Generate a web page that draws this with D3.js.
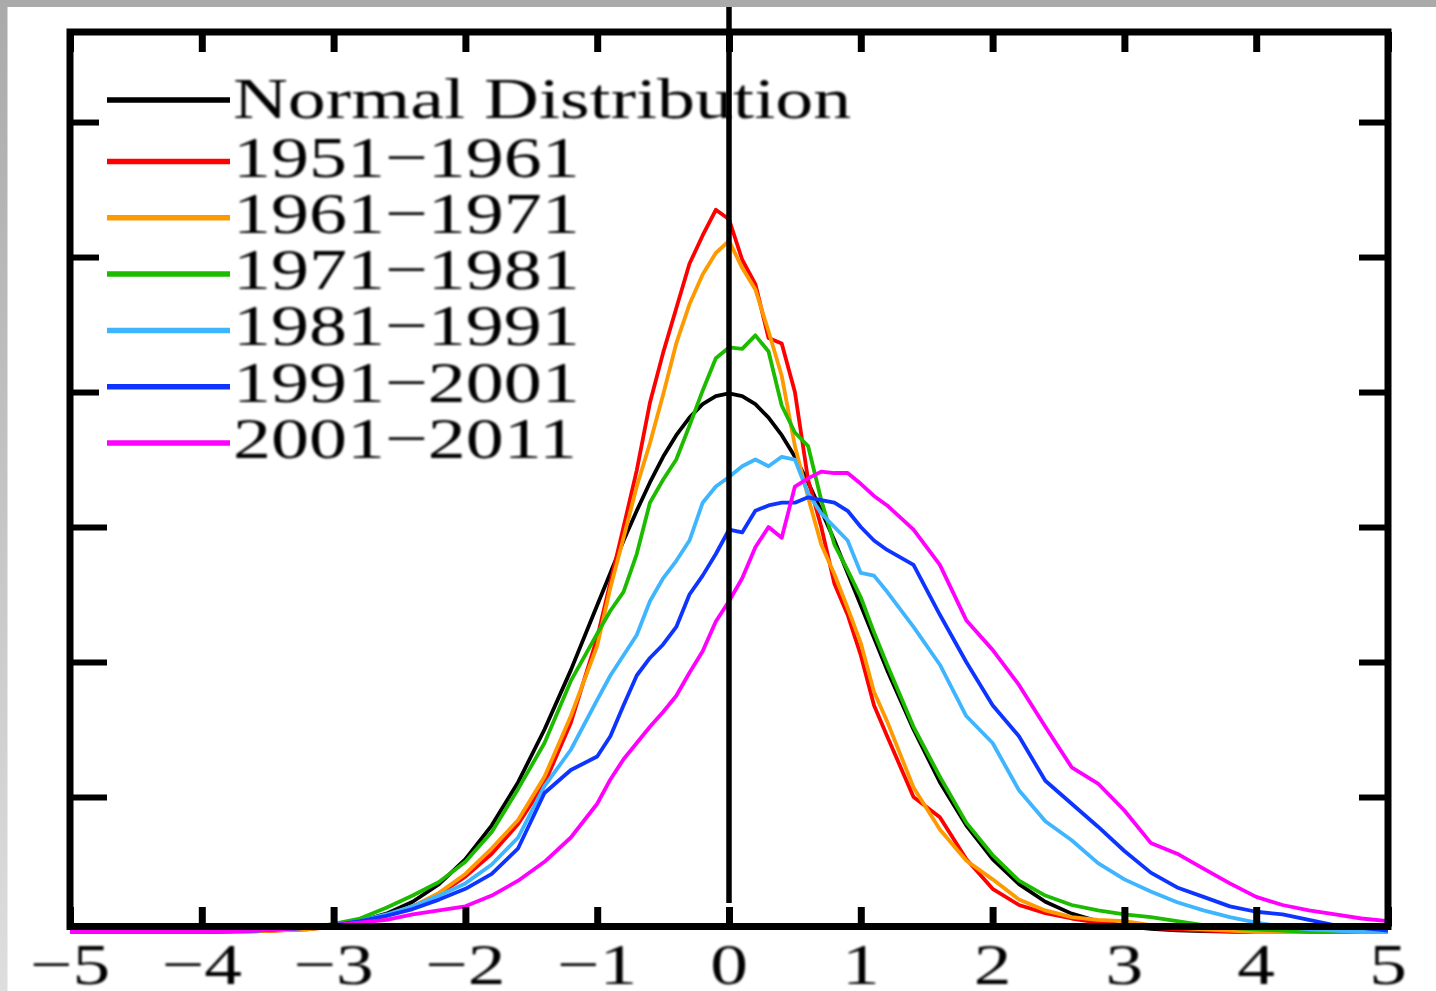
<!DOCTYPE html>
<html><head><meta charset="utf-8">
<script src="https://cdn.jsdelivr.net/npm/d3@7/dist/d3.min.js"></script>
<style>html,body{margin:0;padding:0;background:#fff;overflow:hidden}</style>
</head><body>
<svg id="chart" width="1436" height="991"></svg>
<script>
// ---------- data ----------
const xs = [-5, -4.5, -4, -3.6, -3.2, -3.0, -2.8, -2.6, -2.4, -2.2, -2.0, -1.8, -1.6, -1.4, -1.2, -1.0,
  -0.9, -0.8, -0.7, -0.6, -0.5, -0.4, -0.3, -0.2, -0.1, 0, 0.1, 0.2, 0.3, 0.4, 0.5, 0.6, 0.7, 0.8, 0.9,
  1.0, 1.1, 1.2, 1.4, 1.6, 1.8, 2.0, 2.2, 2.4, 2.6, 2.8, 3.0, 3.2, 3.4, 3.6, 3.8, 4.0, 4.2, 4.4, 4.6, 4.8, 5.0];

const normalVals = [0, 0, 0.0001, 0.0006, 0.0024, 0.0044, 0.0079, 0.0136, 0.0224, 0.0355, 0.054, 0.079, 0.111, 0.150, 0.194, 0.242,
  0.266, 0.290, 0.312, 0.333, 0.352, 0.368, 0.381, 0.391, 0.397, 0.399, 0.397, 0.391, 0.381, 0.368, 0.352, 0.333, 0.312, 0.290, 0.266,
  0.242, 0.218, 0.194, 0.150, 0.111, 0.079, 0.054, 0.0355, 0.0224, 0.0136, 0.0079, 0.0044, 0.0024, 0.0012, 0.0006, 0.0003, 0.0001, 0, 0, 0, 0, 0];

const vals1951 = [0, 0, 0, 0.0005, 0.002, 0.004, 0.007, 0.012, 0.019, 0.028, 0.041, 0.058, 0.080, 0.110, 0.155, 0.218,
  0.259, 0.300, 0.342, 0.392, 0.429, 0.462, 0.495, 0.516, 0.535, 0.528, 0.498, 0.480, 0.440, 0.436, 0.400, 0.335, 0.300, 0.258, 0.235,
  0.205, 0.168, 0.145, 0.100, 0.085, 0.054, 0.032, 0.020, 0.014, 0.010, 0.007, 0.005, 0.003, 0.002, 0.001, 0.0005, 0, 0, 0, 0, 0, 0];

const vals1961 = [0, 0, 0, 0.0005, 0.002, 0.004, 0.007, 0.012, 0.019, 0.029, 0.043, 0.062, 0.083, 0.115, 0.160, 0.212,
  0.255, 0.292, 0.330, 0.362, 0.398, 0.436, 0.465, 0.487, 0.503, 0.512, 0.492, 0.476, 0.445, 0.412, 0.360, 0.322, 0.287, 0.265, 0.240,
  0.214, 0.178, 0.156, 0.107, 0.076, 0.053, 0.039, 0.024, 0.016, 0.011, 0.009, 0.008, 0.005, 0.003, 0.002, 0.001, 0, 0, 0, 0, 0, 0];

const vals1971 = [0, 0, 0, 0.001, 0.003, 0.006, 0.010, 0.018, 0.027, 0.037, 0.052, 0.074, 0.106, 0.140, 0.186, 0.221,
  0.238, 0.252, 0.280, 0.318, 0.335, 0.350, 0.375, 0.401, 0.425, 0.433, 0.432, 0.442, 0.430, 0.390, 0.370, 0.360, 0.320, 0.287, 0.268,
  0.248, 0.222, 0.198, 0.152, 0.115, 0.081, 0.057, 0.038, 0.027, 0.020, 0.016, 0.013, 0.011, 0.008, 0.005, 0.003, 0.002, 0.001, 0, 0, 0, 0];

const vals1981 = [0, 0, 0, 0.001, 0.003, 0.005, 0.008, 0.013, 0.019, 0.027, 0.036, 0.050, 0.070, 0.108, 0.135, 0.172,
  0.190, 0.205, 0.220, 0.245, 0.262, 0.275, 0.290, 0.318, 0.330, 0.337, 0.345, 0.350, 0.345, 0.352, 0.350, 0.325, 0.310, 0.300, 0.290,
  0.266, 0.264, 0.252, 0.226, 0.198, 0.160, 0.140, 0.105, 0.082, 0.068, 0.051, 0.039, 0.030, 0.022, 0.016, 0.011, 0.007, 0.004, 0.002, 0.001, 0, 0];

const vals1991 = [0, 0, 0, 0.001, 0.003, 0.005, 0.008, 0.012, 0.017, 0.024, 0.032, 0.043, 0.062, 0.103, 0.120, 0.130,
  0.145, 0.168, 0.190, 0.203, 0.213, 0.226, 0.250, 0.264, 0.280, 0.298, 0.296, 0.312, 0.316, 0.318, 0.318, 0.322, 0.320, 0.318, 0.312,
  0.300, 0.290, 0.283, 0.272, 0.235, 0.200, 0.168, 0.145, 0.112, 0.095, 0.078, 0.060, 0.044, 0.033, 0.026, 0.019, 0.015, 0.013, 0.009, 0.005, 0.003, 0.001];

const vals2001 = [0, 0, 0, 0.001, 0.003, 0.005, 0.007, 0.009, 0.013, 0.016, 0.019, 0.027, 0.038, 0.052, 0.070, 0.095,
  0.113, 0.128, 0.140, 0.152, 0.163, 0.175, 0.192, 0.208, 0.230, 0.245, 0.262, 0.285, 0.300, 0.292, 0.330, 0.336, 0.341, 0.340, 0.340,
  0.332, 0.323, 0.316, 0.298, 0.272, 0.231, 0.209, 0.183, 0.152, 0.122, 0.110, 0.090, 0.066, 0.058, 0.047, 0.036, 0.026, 0.020, 0.016, 0.013, 0.010, 0.008];

const seriesNames = ["Normal Distribution", "1951\u22121961", "1961\u22121971", "1971\u22121981", "1981\u22121991", "1991\u22122001", "2001\u22122011"];
const seriesValues = [normalVals, vals1951, vals1961, vals1971, vals1981, vals1991, vals2001];
const seriesColors = ["#000000", "#ff0000", "#ff9900", "#1cbb00", "#3fb5ff", "#1034ff", "#ff00ff"];

const xTickValues = [-5, -4, -3, -2, -1, 0, 1, 2, 3, 4, 5];
const xTickLabels = ["\u22125", "\u22124", "\u22123", "\u22122", "\u22121", "0", "1", "2", "3", "4", "5"];
const yTickValues = [0.1, 0.2, 0.3, 0.4, 0.5, 0.6];

// ---------- layout ----------
const W = 1436, H = 991;
const plotL = 70, plotR = 1388, plotT = 32, plotB = 926.5;
const FONT = "'Liberation Serif', 'Times New Roman', serif";

const svg = d3.select("#chart");

const defs = svg.append("defs");
const grad = defs.append("linearGradient").attr("id", "lg").attr("x1", 0).attr("y1", 0).attr("x2", 0).attr("y2", 1);
grad.append("stop").attr("offset", "0%").attr("stop-color", "#aaaaaa");
grad.append("stop").attr("offset", "100%").attr("stop-color", "#dedede");
defs.append("filter").attr("id", "soft").attr("x", "-5%").attr("y", "-5%").attr("width", "110%").attr("height", "110%")
  .append("feGaussianBlur").attr("stdDeviation", 0.7);
defs.append("filter").attr("id", "softText").attr("x", "-5%").attr("y", "-20%").attr("width", "110%").attr("height", "140%")
  .append("feGaussianBlur").attr("stdDeviation", 0.9);

// grey page border (top + left)
svg.append("rect").attr("x", 0).attr("y", 0).attr("width", 7.5).attr("height", H).attr("fill", "url(#lg)");
svg.append("rect").attr("x", 0).attr("y", 0).attr("width", W).attr("height", 7).attr("fill", "#aaaaaa");

const x = d3.scaleLinear().domain([-5, 5]).range([plotL, plotR]);
const y = d3.scaleLinear().domain([0, 0.6667]).range([932, plotT]);

// ---------- curves ----------
const line = d3.line().x(d => x(d[0])).y(d => y(d[1]));
const curves = svg.append("g").attr("filter", "url(#soft)");
seriesValues.forEach((vals, i) => {
  curves.append("path")
    .datum(xs.map((xv, k) => [xv, vals[k]]))
    .attr("d", line)
    .attr("fill", "none")
    .attr("stroke", seriesColors[i])
    .attr("stroke-width", 3.8)
    .attr("stroke-linejoin", "round");
});

// ---------- frame & ticks ----------
const axG = svg.append("g");
const bottomAxis = axG.append("g").attr("transform", `translate(0,${plotB})`)
  .call(d3.axisBottom(x).tickValues(xTickValues).tickSize(-19.5).tickFormat(""));
const topAxis = axG.append("g").attr("transform", `translate(0,${plotT})`)
  .call(d3.axisTop(x).tickValues(xTickValues).tickSize(-20).tickFormat(""));
const leftAxis = axG.append("g").attr("transform", `translate(${plotL},0)`)
  .call(d3.axisLeft(y).tickValues(yTickValues).tickSize(-29).tickFormat(""));
const rightAxis = axG.append("g").attr("transform", `translate(${plotR},0)`)
  .call(d3.axisRight(y).tickValues(yTickValues).tickSize(-29).tickFormat(""));
leftAxis.selectAll(".tick line").attr("x2", d => d <= 0.3 ? 37 : 29);
axG.selectAll(".domain").remove();
[bottomAxis, topAxis].forEach(g => g.selectAll(".tick line").attr("stroke", "#000").attr("stroke-width", 7));
[leftAxis, rightAxis].forEach(g => g.selectAll(".tick line").attr("stroke", "#000").attr("stroke-width", 6));

axG.append("rect")
  .attr("x", plotL).attr("y", plotT)
  .attr("width", plotR - plotL).attr("height", plotB - plotT)
  .attr("fill", "none").attr("stroke", "#000").attr("stroke-width", 7);

// x tick labels
svg.append("g").attr("filter", "url(#softText)")
  .selectAll("text").data(xTickValues).join("text")
  .attr("transform", d => `translate(${x(d)},984) scale(1.3,1)`)
  .attr("text-anchor", "middle")
  .attr("font-family", FONT).attr("font-size", 58).attr("fill", "#000")
  .text((d, i) => xTickLabels[i]);

// ---------- legend ----------
const lineY = i => i === 0 ? 100 : 105.2 + 56.3 * i;
const leg = svg.append("g");
const legText = svg.append("g").attr("filter", "url(#softText)");
seriesNames.forEach((name, i) => {
  leg.append("line").attr("x1", 107).attr("x2", 230).attr("y1", lineY(i)).attr("y2", lineY(i))
    .attr("stroke", seriesColors[i]).attr("stroke-width", 5.5);
  legText.append("text")
    .attr("transform", `translate(233,${lineY(i) + (i === 0 ? 18 : 15)}) scale(1.31,1)`)
    .attr("font-family", FONT).attr("font-size", 58).attr("fill", "#000")
    .text(name);
});

// ---------- vertical line at x = 0 ----------
svg.append("line")
  .attr("x1", x(0)).attr("x2", x(0))
  .attr("y1", 7).attr("y2", y(0.0215))
  .attr("stroke", "#000").attr("stroke-width", 5.5);
</script>
</body></html>
